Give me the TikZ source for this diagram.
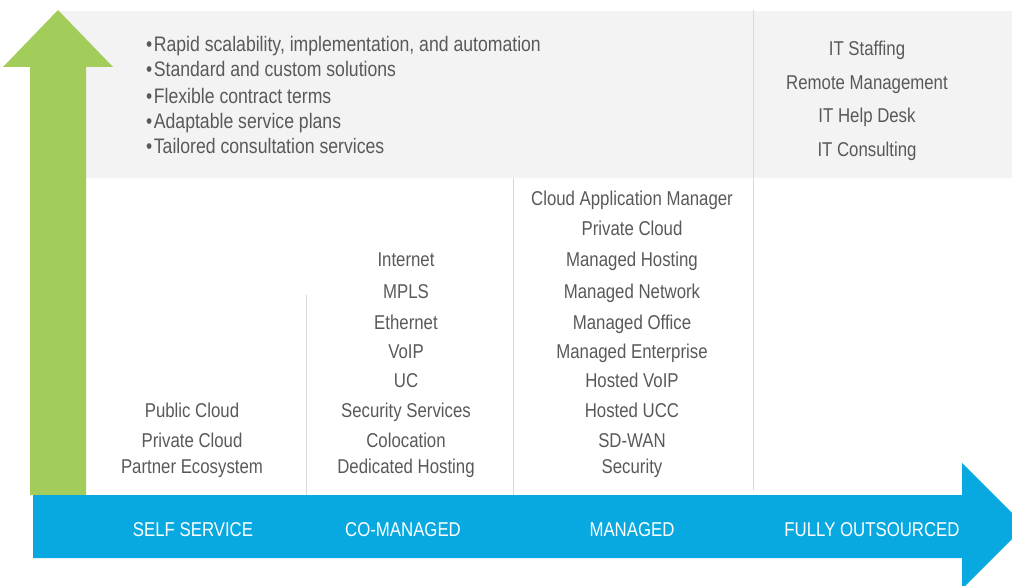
\documentclass[tikz,border=0pt]{standalone}
\usepackage{fontspec}
\setmainfont{Liberation Sans}[FakeStretch=0.84]
\usetikzlibrary{positioning}

\definecolor{bandgray}{HTML}{F3F3F3}
\definecolor{rulegray}{HTML}{D9D9D9}
\definecolor{txtgray}{HTML}{595959}
\definecolor{upgreen}{HTML}{A2CD5A}
\definecolor{rightblue}{HTML}{08A9E0}

\begin{document}
\begin{tikzpicture}[x=1pt, y=-1pt,
    item/.style={text=txtgray, font=\fontsize{20}{24}\selectfont, inner sep=0pt, anchor=base},
    bullet/.style={item, font=\fontsize{21}{24}\selectfont, anchor=base west},
    stage/.style={text=white, font=\fontsize{20}{24}\selectfont, inner sep=0pt, anchor=base}]
  \useasboundingbox (0,0) rectangle (1012,586);
  \clip (0,0) rectangle (1012,586);

  % grey band and column rules
  \fill[bandgray] (60,11) rectangle (1012,178);
  \draw[rulegray, line width=1pt] (306,295) -- (306,495);
  \draw[rulegray, line width=1pt] (513,178) -- (513,495);
  \draw[rulegray, line width=1pt] (753,10) -- (753,490);

  % arrows
  \fill[upgreen] (30,495) -- (30,67) -- (3,67) -- (58,10) -- (113,67) -- (86,67) -- (86,495) -- cycle;
  \fill[rightblue] (33,495) -- (962,495) -- (962,463) -- (1025,526) -- (962,589) -- (962,558) -- (33,558) -- cycle;

  % benefits
  \node[bullet] (b1) at (146,52) {\textbullet\hspace{1.5pt}Rapid scalability, implementation, and automation};
  \node[bullet] (b2) at (146,77) {\textbullet\hspace{1.5pt}Standard and custom solutions};
  \node[bullet] (b3) at (146,103) {\textbullet\hspace{1.5pt}Flexible contract terms};
  \node[bullet] (b4) at (146,128) {\textbullet\hspace{1.5pt}Adaptable service plans};
  \node[bullet] (b5) at (146,153) {\textbullet\hspace{1.5pt}Tailored consultation services};

  % fully outsourced
  \node[item] (f1) at (867,56) {IT Staffing};
  \node[item] (f2) at (867,89) {Remote Management};
  \node[item] (f3) at (867,122) {IT Help Desk};
  \node[item] (f4) at (867,156) {IT Consulting};

  % managed
  \node[item] (m1) at (632,205) {Cloud Application Manager};
  \node[item] (m2) at (632,235) {Private Cloud};
  \node[item] (m3) at (632,266) {Managed Hosting};
  \node[item] (m4) at (632,298) {Managed Network};
  \node[item] (m5) at (632,329) {Managed Office};
  \node[item] (m6) at (632,358) {Managed Enterprise};
  \node[item] (m7) at (632,387) {Hosted VoIP};
  \node[item] (m8) at (632,417) {Hosted UCC};
  \node[item] (m9) at (632,447) {SD-WAN};
  \node[item] (m10) at (632,473) {Security};

  % co-managed
  \node[item] (c1) at (406,266) {Internet};
  \node[item] (c2) at (406,298) {MPLS};
  \node[item] (c3) at (406,329) {Ethernet};
  \node[item] (c4) at (406,358) {VoIP};
  \node[item] (c5) at (406,387) {UC};
  \node[item] (c6) at (406,417) {Security Services};
  \node[item] (c7) at (406,447) {Colocation};
  \node[item] (c8) at (406,473) {Dedicated Hosting};

  % self service
  \node[item] (s1) at (192,417) {Public Cloud};
  \node[item] (s2) at (192,447) {Private Cloud};
  \node[item] (s3) at (192,473) {Partner Ecosystem};

  % stages
  \node[stage] (self) at (193,536) {SELF SERVICE};
  \node[stage] (co) at (403,536) {CO-MANAGED};
  \node[stage] (man) at (632,536) {MANAGED};
  \node[stage] (full) at (872,536) {FULLY OUTSOURCED};
\end{tikzpicture}
\end{document}
